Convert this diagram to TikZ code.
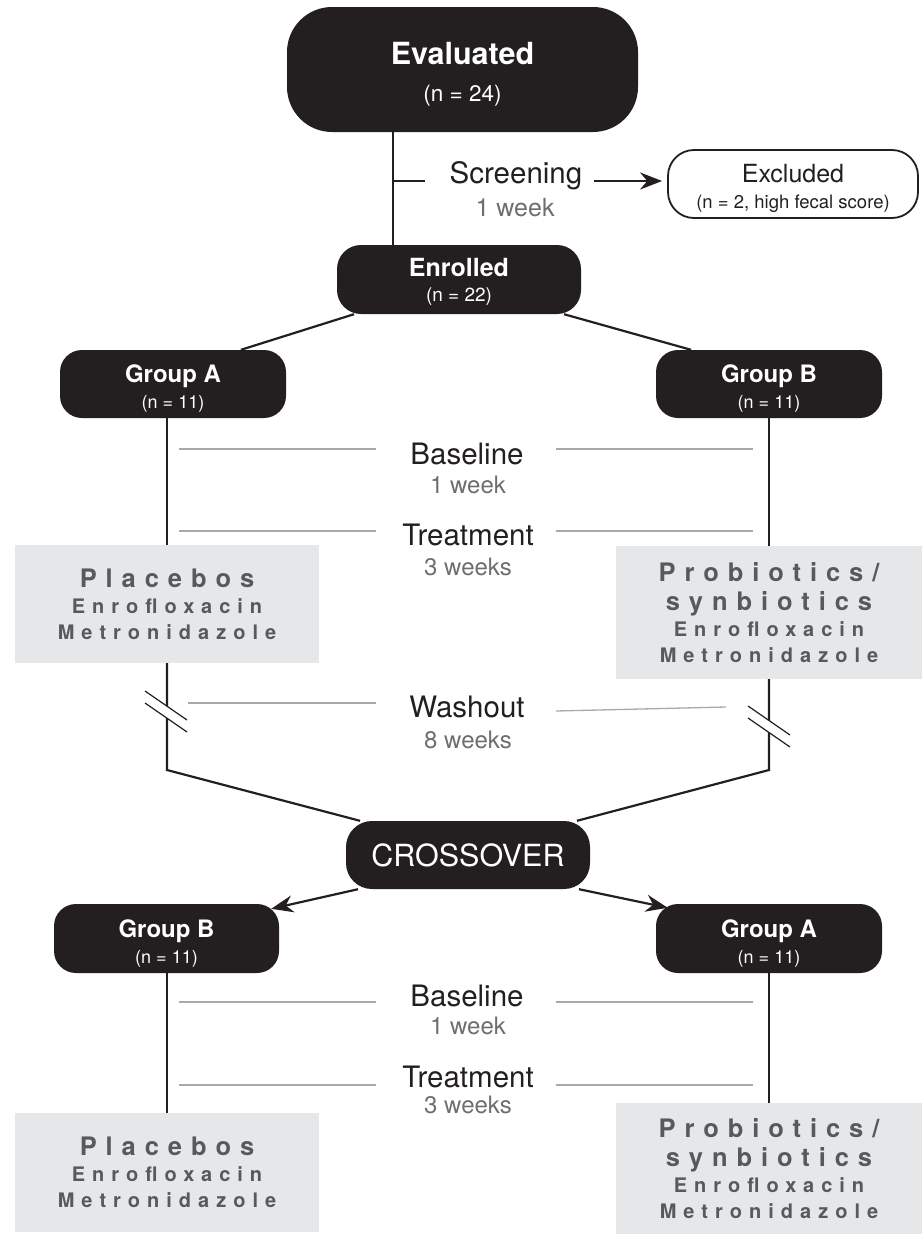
\documentclass[tikz,border=0pt]{standalone}
\usepackage{fontspec}
\setmainfont{TeX Gyre Heros}
\newfontfamily\spacedfont[LetterSpace=35]{TeX Gyre Heros}
\usepackage{tikz}
\usetikzlibrary{calc,arrows.meta,positioning}
\definecolor{ink}{HTML}{231F20}
\definecolor{boxgray}{HTML}{E6E7E8}
\definecolor{txtgray}{HTML}{58595B}
\definecolor{wkgray}{HTML}{6D6E71}
\definecolor{rulegray}{HTML}{A7A9AC}
\newcommand{\fsz}[2]{\fontsize{#1}{#2}\selectfont}
\newcommand{\lift}[1]{\rule{0pt}{#1}}
\tikzset{
  blk/.style={fill=ink,text=white,align=center,inner sep=0pt},
  grey/.style={fill=boxgray,text=txtgray,align=center,inner sep=0pt},
  ln/.style={ink,line width=2.2pt},
  rule/.style={rulegray,line width=1.3pt},
  ar/.style={-{Stealth[length=22pt,width=17pt]},ink,line width=2.2pt},
  head/.style={text=ink,font=\fsz{29.5}{30}},
  wk/.style={text=wkgray,font=\fsz{24}{24}},
  grp/.style={blk,minimum width=226,minimum height=68,rounded corners=22pt,font=\fsz{18}{26}}
}

\begin{document}
\begin{tikzpicture}[x=1pt,y=-1pt]
\useasboundingbox (0,0) rectangle (922,1234);
% boxes
\node[blk,minimum width=351,minimum height=125,rounded corners=45pt,font=\fsz{22.5}{37}] (eval) at (462.5,69.5)
  {{\fsz{30.5}{30}\bfseries\lift{31pt}Evaluated}\\(n = 24)};
\node[draw=ink,line width=1.8pt,fill=white,text=ink,align=center,inner sep=0pt,
  minimum width=250,minimum height=68,rounded corners=26pt,font=\fsz{18.5}{26.5}] (excl) at (793,184)
  {{\fsz{25}{25}\lift{27pt}Excluded}\\(n = 2, high fecal score)};
\node[blk,minimum width=244,minimum height=69,rounded corners=24pt,font=\fsz{19}{25}] (enrol) at (459,279.5)
  {{\fsz{25}{25}\bfseries\lift{23.5pt}Enrolled}\\(n = 22)};
\node[grp] (grpA) at (173,384) {{\fsz{24}{24}\bfseries\lift{26.5pt}Group A}\\(n = 11)};
\node[grp] (grpB) at (769,384) {{\fsz{24}{24}\bfseries\lift{26.5pt}Group B}\\(n = 11)};
\node[grey,minimum width=304,minimum height=118,font=\spacedfont\bfseries\fsz{20}{26}] (plcA) at (167,604)
  {{\fsz{25.5}{25}Placebos}\\Enrofloxacin\\Metronidazole};
\node[grey,minimum width=306,minimum height=133,font=\spacedfont\bfseries\fsz{20}{26}] (probB) at (769,612.5)
  {{\fsz{25.5}{25}Probiotics/}\\[3pt]{\fsz{25.5}{25}synbiotics}\\Enrofloxacin\\Metronidazole};
\node[blk,minimum width=244,minimum height=68,rounded corners=26pt,font=\fsz{30.5}{30}] (cross) at (468,855) {CROSSOVER};
\node[grp,minimum width=225,minimum height=69] (grpB2) at (166.5,938.5) {{\fsz{24}{24}\bfseries\lift{28pt}Group B}\\(n = 11)};
\node[grp,minimum height=69] (grpA2) at (769,938.5) {{\fsz{24}{24}\bfseries\lift{28pt}Group A}\\(n = 11)};
\node[grey,minimum width=304,minimum height=119,font=\spacedfont\bfseries\fsz{20}{26}] (plcB2) at (167,1172.5)
  {{\fsz{25.5}{25}Placebos}\\Enrofloxacin\\Metronidazole};
\node[grey,minimum width=306,minimum height=131,font=\spacedfont\bfseries\fsz{20}{26}] (probA2) at (769,1168.5)
  {{\fsz{25.5}{25}Probiotics/}\\[3pt]{\fsz{25.5}{25}synbiotics}\\Enrofloxacin\\Metronidazole};
% period labels
\node[head,inner sep=12pt] (scrn) at (516,176) {Screening};
\node[wk,font=\fsz{25}{25}] (scrnwk) at (515,208) {1 week};
\node[head] (base) at (467,454) {Baseline};
\node[wk] (basewk) at (468,485) {1 week};
\node[head] (treat) at (468,535) {Treatment};
\node[wk] (treatwk) at (468,567) {3 weeks};
\node[head] (wash) at (467,707) {Washout};
\node[wk] (washwk) at (468,740) {8 weeks};
\node[head] (base2) at (467,996) {Baseline};
\node[wk] (base2wk) at (468,1026) {1 week};
\node[head] (treat2) at (468,1077) {Treatment};
\node[wk] (treat2wk) at (468,1105) {3 weeks};
% grey rules
\foreach \y in {449,531,1002,1085}{
  \draw[rule] (179,\y) -- (376,\y);
  \draw[rule] (556,\y) -- (753,\y);
}
\draw[rule] (188,703) -- (376,703);
\draw[rule] (556,711) -- (726,707);
% connectors
\coordinate (scrtick) at (393,181);
\coordinate (bendA) at (167,770);
\coordinate (bendB) at (769,770);
\draw[ln] ([xshift=-69.5]eval.south) -- ([xshift=-66]enrol.north);
\draw[ln] (scrtick) -- +(32,0);
\draw[ar] ([yshift=-5]scrn.east) -- ([xshift=-5,yshift=-5]scrn.east -| excl.west);
\draw[ln] ([xshift=-105]enrol.south) -- ([xshift=68]grpA.north);
\draw[ln] ([xshift=105]enrol.south) -- ([xshift=-78]grpB.north);
\draw[ln] (grpA.south -| plcA.north) -- (plcA.north);
\draw[ln] (grpB.south) -- (probB.north);
\draw[ln] (plcA.south) -- (bendA) -- ([xshift=-108]cross.north);
\draw[ln] (probB.south) -- (bendB) -- ([xshift=109]cross.north);
\draw[ar] ([xshift=-110]cross.south) -- ([xshift=-8,yshift=-5]grpB2.north east);
\draw[ar] ([xshift=111]cross.south) -- ([xshift=12,yshift=-4]grpA2.north west);
\draw[ln] (grpB2.south -| plcB2.north) -- (plcB2.north);
\draw[ln] (grpA2.south) -- (probA2.north);
% break marks
\coordinate (brkA) at (166,711.5);
\coordinate (brkB) at (769,726.5);
\foreach \c in {brkA,brkB}{
  \fill[white] ($(\c)+(-21,-20.5)$) -- ($(\c)+(21,8.5)$) -- ($(\c)+(21,20.5)$) -- ($(\c)+(-21,-8.5)$) -- cycle;
  \draw[ink,line width=1.2pt] ($(\c)+(-21,-20.5)$) -- ($(\c)+(21,8.5)$);
  \draw[ink,line width=1.2pt] ($(\c)+(-21,-8.5)$) -- ($(\c)+(21,20.5)$);
}
\end{tikzpicture}
\end{document}
